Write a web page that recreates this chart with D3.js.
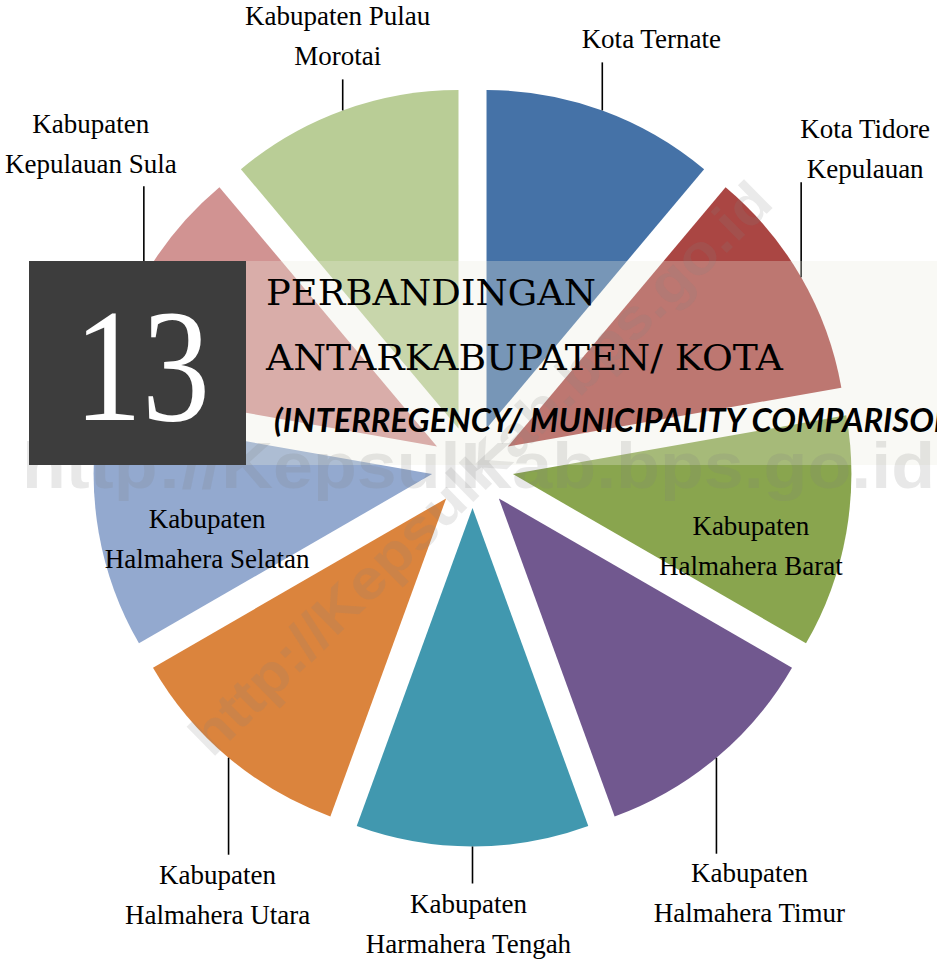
<!DOCTYPE html>
<html>
<head>
<meta charset="utf-8">
<script src="https://cdn.jsdelivr.net/npm/d3@7"></script>
<style>
  html, body { margin: 0; padding: 0; background: #fff; }
  svg { display: block; }
</style>
</head>
<body>
<svg class="pie" width="937" height="960"></svg>
<script>
// regions, clockwise from 12 o'clock
var regions = ["Kota Ternate", "Kota Tidore Kepulauan", "Kabupaten Halmahera Barat",
  "Kabupaten Halmahera Timur", "Kabupaten Harmahera Tengah", "Kabupaten Halmahera Utara",
  "Kabupaten Halmahera Selatan", "Kabupaten Kepulauan Sula", "Kabupaten Pulau Morotai"];
var labelLines = [["Kota Ternate"], ["Kota Tidore", "Kepulauan"], ["Kabupaten", "Halmahera Barat"],
  ["Kabupaten", "Halmahera Timur"], ["Kabupaten", "Harmahera Tengah"], ["Kabupaten", "Halmahera Utara"],
  ["Kabupaten", "Halmahera Selatan"], ["Kabupaten", "Kepulauan Sula"], ["Kabupaten Pulau", "Morotai"]];
var shares = [1, 1, 1, 1, 1, 1, 1, 1, 1];
var colors = ["#4572a7", "#aa4643", "#89a54e", "#71588f", "#4198af", "#db843d", "#93a9cf", "#d19392", "#b9cd96"];

var chapterNo = "13";
var titleLines = ["PERBANDINGAN", "ANTARKABUPATEN/ KOTA"];
var subTitle = "(INTERREGENCY/ MUNICIPALITY COMPARISON)";
var watermark = "http://KepsulKab.bps.go.id";

var width = 937, height = 960,
    cx = 472.5, cy = 467,
    radius = 338.5,
    explode = 41;

// label placement: outside labels hang off a vertical leader (len), inside ones sit in the slice
var labelPlace = [
  { leader: -48, dx: 49, dy: -14 },
  { leader: -95, dx: 64, dy: -44 },
  { inside: true, dx: 238, dy: 61 },
  { leader: 96, dx: 33, dy: 28 },
  { leader: 37, dx: -4, dy: 29 },
  { leader: 97, dx: -11, dy: 29 },
  { inside: true, dx: -225, dy: 54 },
  { leader: -91, dx: -53, dy: -53 },
  { leader: -31, dx: -5, dy: -54 }
];

var svg = d3.select("svg.pie");
svg.append("rect").attr("width", width).attr("height", height).attr("fill", "#fff");

var pie = d3.pie().sort(null).value(function(d) { return d; });
var arc = d3.arc().innerRadius(0).outerRadius(radius);
var arcs = pie(shares);

function mid(d) { return (d.startAngle + d.endAngle) / 2; }
function apex(d) {
  var a = mid(d);
  return [cx + explode * Math.sin(a), cy - explode * Math.cos(a)];
}

var g = svg.append("g");
g.selectAll(".slice")
  .data(arcs)
  .enter().append("path")
    .attr("class", "slice")
    .attr("fill", function(d, i) { return colors[i]; })
    .attr("transform", function(d) { var p = apex(d); return "translate(" + p[0] + "," + p[1] + ")"; })
    .attr("d", arc);

// leaders + labels
arcs.forEach(function(d, i) {
  var a = mid(d), c = apex(d), pl = labelPlace[i];
  var lx, ly;
  if (pl.inside) {
    lx = c[0] + pl.dx; ly = c[1] + pl.dy;
  } else {
    var px = c[0] + radius * Math.sin(a), py = c[1] - radius * Math.cos(a);
    svg.append("line")
      .attr("x1", px).attr("y1", py)
      .attr("x2", px).attr("y2", py + pl.leader)
      .attr("stroke", "#000").attr("stroke-width", 1.6);
    lx = px + pl.dx; ly = py + pl.leader + pl.dy;
  }
  var t = svg.append("text")
    .attr("text-anchor", "middle")
    .attr("font-family", "'Liberation Serif', 'Times New Roman', serif")
    .attr("font-size", 27)
    .attr("fill", "#000");
  labelLines[i].forEach(function(s, k) {
    t.append("tspan").attr("x", lx).attr("y", ly + k * 40).text(s);
  });
});

// banner band
svg.append("rect")
  .attr("x", 29).attr("y", 261).attr("width", width - 29).attr("height", 204)
  .attr("fill", "#ebebdf").attr("fill-opacity", 0.3);

// watermarks
svg.append("text")
  .attr("x", 22).attr("y", 488)
  .attr("font-family", "'Liberation Sans', Arial, sans-serif")
  .attr("font-weight", "bold").attr("font-size", 64)
  .attr("textLength", 913).attr("lengthAdjust", "spacingAndGlyphs")
  .attr("fill", "#808080").attr("fill-opacity", 0.18)
  .text(watermark);

svg.append("text")
  .attr("transform", "translate(480,468) rotate(-44.5)")
  .attr("text-anchor", "middle").attr("dy", "0.35em")
  .attr("font-family", "'Liberation Sans', Arial, sans-serif")
  .attr("font-weight", "bold").attr("font-size", 56)
  .attr("textLength", 790).attr("lengthAdjust", "spacingAndGlyphs")
  .attr("fill", "#808080").attr("fill-opacity", 0.17)
  .text(watermark);

// chapter box
svg.append("rect")
  .attr("x", 29).attr("y", 261).attr("width", 217).attr("height", 204)
  .attr("fill", "#3d3d3d");
svg.append("text")
  .attr("x", 142).attr("y", 420)
  .attr("text-anchor", "middle")
  .attr("font-family", "'Liberation Serif', serif")
  .attr("font-size", 162)
  .attr("textLength", 136).attr("lengthAdjust", "spacingAndGlyphs")
  .attr("fill", "#fff")
  .text(chapterNo);

// titles
var titleWidths = [330, 517];
titleLines.forEach(function(s, k) {
  svg.append("text")
    .attr("x", 266).attr("y", 305 + k * 65)
    .attr("font-family", "'DejaVu Serif', serif")
    .attr("font-size", 36)
    .attr("textLength", titleWidths[k]).attr("lengthAdjust", "spacingAndGlyphs")
    .attr("fill", "#000")
    .text(s);
});
svg.append("text")
  .attr("x", 274).attr("y", 432)
  .attr("font-family", "Lato, 'Open Sans', sans-serif")
  .attr("font-weight", "bold").attr("font-style", "italic")
  .attr("font-size", 32)
  .attr("textLength", 692).attr("lengthAdjust", "spacingAndGlyphs")
  .attr("fill", "#000")
  .text(subTitle);
</script>
</body>
</html>
